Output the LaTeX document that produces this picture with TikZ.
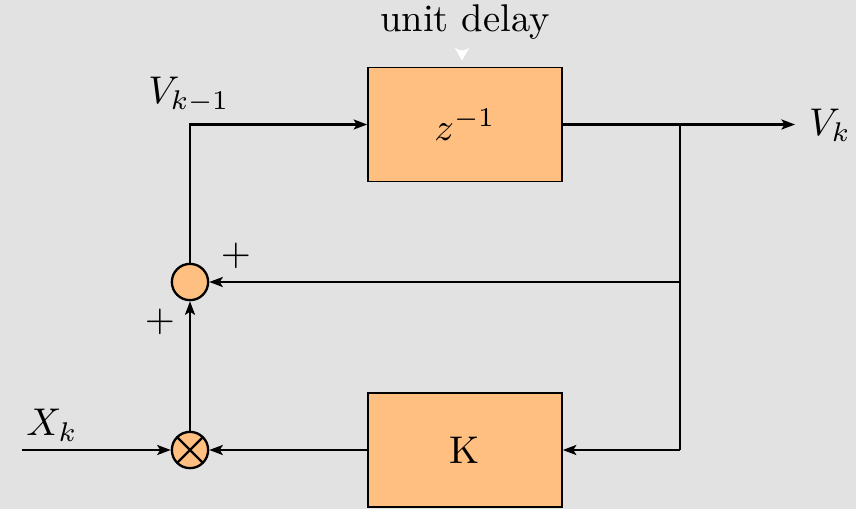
\documentclass[tikz,border=0pt]{standalone}
\usepackage{amsmath}
\usepackage{tikz}
\usetikzlibrary{positioning, arrows.meta, shapes.misc}

\definecolor{bggray}{RGB}{226,226,226}
\tikzset{cross out circle/.style={circle, path picture={
    \draw (path picture bounding box.north west) -- (path picture bounding box.south east)
          (path picture bounding box.north east) -- (path picture bounding box.south west);}}}

\begin{document}
\begin{tikzpicture}[
    x=0.0091cm, y=-0.0091cm,
    blockbox/.style={draw, fill=orange!50, minimum width=1.765cm, minimum height=1.037cm, inner sep=0pt},
    sumcirc/.style={draw, circle, fill=orange!50, minimum size=0.33cm, inner sep=0pt},
    mulcirc/.style={draw, cross out circle, fill=orange!50, minimum size=0.33cm, inner sep=0pt},
    plain/.style={inner sep=0pt},
    sig/.style={draw, semithick, -{Stealth[length=3.5pt, width=2.6pt, inset=0.8pt]}},
    wire/.style={draw, semithick}
]
\fill[bggray] (0,0) rectangle (856,509);
\useasboundingbox (0,0) rectangle (856,509);

% blocks
\node[blockbox] (delay) at (465,124.5) {$z^{-1}$};
\node[blockbox] (gain) at (465,450) {K};
\node[sumcirc, semithick] (sum) at (190,282) {};
\node[mulcirc, semithick] (mul) at (190,450) {};

% labels
\node[plain] (dlabel) at (465,22) {unit delay};
\node[plain] (vprev) at (189,95) {$V_{k-1}$};
\node[plain] (vout) at (830,125) {$V_k$};
\node[plain] (xin) at (52,425) {$X_k$};
\node[plain] (plusa) at (236,256) {$+$};
\node[plain] (plusb) at (160,322) {$+$};

% points
\coordinate (corner) at (190,124.5);
\coordinate (split) at (680,124.5);
\coordinate (tapsum) at (680,282);
\coordinate (tapgain) at (680,450);
\coordinate (outend) at (795,124.5);
\coordinate (inend) at (22,450);
\coordinate (tick) at (462,50);

% connectors
\draw[sig] (sum.north) -- (corner) -- (delay.west);
\draw[sig] (delay.east) -- (outend);
\draw[wire] (split) -- (tapgain);
\draw[sig] (tapsum) -- (sum.east);
\draw[sig] (tapgain) -- (gain.east);
\draw[sig] (gain.west) -- (mul.east);
\draw[sig] (inend) -- (mul.west);
\draw[sig] (mul.north) -- (sum.south);
\draw[white, semithick, -{Stealth[length=3.2pt, width=3.6pt, inset=0.8pt]}, shorten >=1.6pt] (tick) -- (delay.north -| tick);
\end{tikzpicture}
\end{document}
